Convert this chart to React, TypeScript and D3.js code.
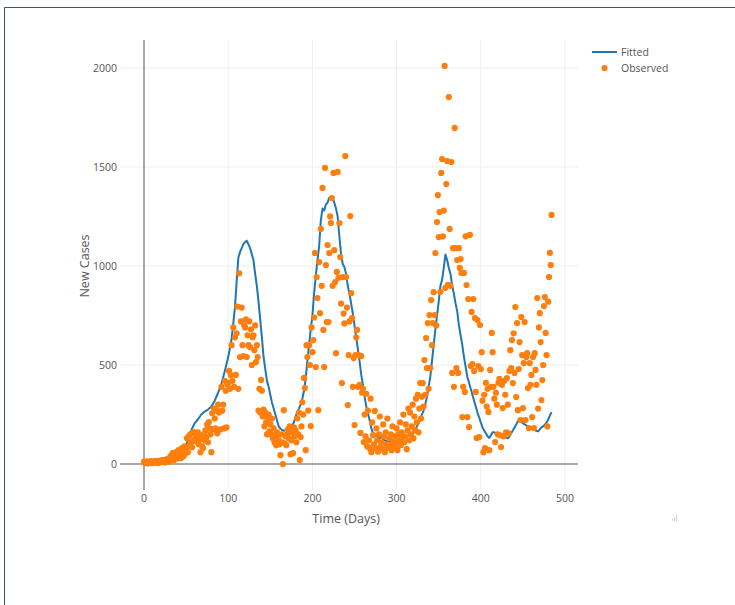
import React from 'react';
import * as d3 from 'd3';

const xTicks = [0, 100, 200, 300, 400, 500];
const yTicks = [0, 500, 1000, 1500, 2000];
const xTitle = 'Time (Days)';
const yTitle = 'New Cases';
const legendLabels = ['Fitted', 'Observed'];

// Observed new cases, one value per day starting at day 0
const observed = [
  12, 5, 8, 14, 3, 10, 6, 9, 15, 4,
  8, 12, 6, 10, 16, 7, 11, 5, 13, 18,
  9, 14, 20, 11, 17, 8, 22, 15, 25, 12,
  30, 18, 42, 25, 55, 35, 20, 48, 60, 28,
  45, 70, 38, 55, 30, 80, 62, 40, 90, 52,
  75, 130, 60, 140, 95, 150, 110, 85, 160, 120,
  160, 130, 115, 145, 160, 100, 125, 60, 140, 90,
  80, 150, 120, 170, 135, 200, 110, 212, 180, 150,
  60, 256, 175, 280, 230, 180, 270, 155, 300, 260,
  265, 175, 390, 270, 300, 180, 420, 370, 185, 400,
  410, 470, 380, 450, 600, 420, 690, 390, 640, 450,
  660, 795, 380, 963, 540, 720, 790, 600, 545, 700,
  690, 730, 540, 650, 600, 720, 590, 680, 500, 640,
  650, 575, 700, 515, 600, 540, 270, 380, 260, 425,
  370, 240, 275, 190, 260, 210, 150, 230, 250, 165,
  200, 150, 230, 130, 180, 110, 140, 95, 160, 150,
  120, 100, 45, 150, 110, 0, 272, 105, 140, 95,
  150, 175, 130, 190, 50, 120, 160, 55, 185, 140,
  170, 110, 230, 150, 260, 20, 136, 190, 312, 250,
  435, 384, 70, 600, 540, 270, 600, 500, 192, 690,
  565, 626, 740, 1065, 490, 944, 838, 272, 1020, 762,
  1187, 900, 1394, 677, 490, 1495, 1005, 717, 1106, 717,
  1065, 1250, 1217, 1343, 900, 1470, 1080, 919, 560, 970,
  1475, 940, 1217, 1045, 810, 409, 944, 760, 710, 1555,
  944, 790, 298, 550, 720, 1252, 863, 737, 390, 535,
  197, 550, 640, 677, 390, 550, 400, 157, 545, 360,
  380, 111, 250, 140, 355, 90, 270, 120, 80, 330,
  60, 210, 146, 100, 268, 80, 180, 120, 62, 150,
  240, 90, 110, 75, 200, 140, 60, 160, 100, 230,
  81, 130, 95, 150, 70, 190, 115, 85, 140, 100,
  180, 70, 150, 120, 210, 95, 160, 130, 250, 110,
  140, 200, 75, 170, 280, 120, 260, 150, 190, 300,
  130, 240, 170, 330, 210, 350, 160, 280, 409, 230,
  340, 409, 290, 525, 350, 636, 485, 712, 380, 752,
  485, 828, 600, 712, 868, 752, 1065, 700, 1222, 1358,
  1146, 1272, 870, 1470, 1540, 1150, 1280, 2010, 890, 1414,
  1530, 905, 1853, 1187, 900, 1525, 460, 1090, 390, 1697,
  1090, 485, 1030, 460, 1090, 990, 1035, 965, 237, 390,
  965, 364, 1150, 904, 237, 833, 187, 1157, 495, 768,
  505, 833, 470, 737, 364, 131, 727, 495, 136, 702,
  480, 565, 320, 60, 350, 80, 410, 290, 380, 263,
  70, 475, 390, 662, 565, 390, 330, 111, 360, 300,
  150, 410, 430, 145, 86, 400, 283, 140, 420, 350,
  160, 434, 300, 155, 470, 575, 485, 626, 409, 660,
  460, 793, 338, 712, 272, 480, 616, 222, 742, 550,
  283, 510, 717, 222, 540, 560, 384, 182, 510, 400,
  450, 237, 540, 182, 560, 475, 400, 838, 280, 690,
  762, 616, 323, 424, 500, 798, 843, 662, 550, 190,
  820, 944, 1066, 1005, 1258,
];

const fittedDays = [
  0, 4, 8, 12, 16, 20, 24, 28, 32, 36, 40, 44, 48, 52, 56, 60, 64, 68, 72, 76,
  80, 84, 88, 92, 96, 100, 104, 108, 110, 112, 114, 116, 118, 120, 122, 124, 126, 128, 130, 132,
  134, 136, 138, 140, 142, 144, 146, 148, 150, 152, 154, 156, 158, 160, 162, 164, 166, 168, 170, 172,
  174, 176, 178, 180, 182, 184, 186, 188, 190, 192, 194, 196, 198, 200, 202, 204, 206, 208, 210, 212,
  214, 216, 218, 220, 222, 224, 226, 228, 230, 232, 234, 236, 238, 240, 242, 244, 246, 248, 250, 252,
  254, 256, 258, 260, 262, 264, 266, 268, 270, 272, 274, 276, 278, 280, 282, 284, 286, 288, 290, 292,
  294, 296, 298, 300, 302, 304, 306, 308, 310, 312, 314, 316, 318, 320, 322, 324, 326, 328, 330, 332,
  334, 336, 338, 340, 342, 344, 346, 348, 350, 352, 354, 356, 358, 360, 362, 364, 366, 368, 370, 372,
  374, 376, 378, 380, 382, 384, 386, 388, 390, 392, 394, 396, 398, 400, 402, 404, 406, 408, 410, 412,
  414, 416, 418, 420, 422, 424, 426, 428, 430, 432, 434, 436, 438, 440, 442, 444, 446, 448, 450, 452,
  454, 456, 458, 460, 462, 464, 466, 468, 470, 472, 474, 476, 478, 480, 482, 484,
];
const fittedValues = [
  5, 8, 10, 12, 15, 18, 22, 28, 40, 52, 55, 62, 80, 115, 170, 205, 225, 250, 265, 275,
  290, 320, 360, 405, 470, 540, 630, 790, 920, 1040, 1070, 1090, 1110, 1120, 1128, 1110, 1090, 1060, 1030, 960,
  900, 820, 730, 640, 540, 480, 420, 390, 350, 310, 280, 250, 220, 190, 178, 172, 168, 170, 175, 178,
  185, 195, 210, 240, 262, 280, 300, 330, 370, 430, 520, 600, 680, 750, 860, 950, 1030, 1100, 1230, 1290,
  1280, 1310, 1320, 1345, 1340, 1345, 1320, 1290, 1250, 1150, 1060, 1010, 995, 960, 900, 860, 810, 760, 700, 640,
  580, 520, 450, 400, 340, 290, 255, 220, 180, 155, 140, 145, 135, 130, 140, 125, 120, 115, 112, 118,
  108, 105, 110, 112, 115, 112, 118, 122, 130, 138, 145, 150, 155, 160, 175, 190, 205, 225, 250, 270,
  300, 340, 390, 440, 520, 600, 680, 750, 820, 900, 930, 990, 1058, 1030, 990, 960, 900, 860, 810, 770,
  700, 650, 600, 540, 490, 440, 410, 380, 350, 320, 290, 260, 235, 210, 185, 170, 155, 140, 132, 145,
  160, 160, 155, 150, 148, 145, 150, 138, 135, 130, 140, 155, 170, 185, 200, 215, 220, 215, 205, 200,
  195, 190, 185, 182, 178, 172, 168, 165, 175, 185, 190, 198, 210, 225, 245, 262,
];

const FONT = '"Open Sans", "Noto Sans", sans-serif';

export default function App() {
  const left = 120, right = 578, top = 40, bottom = 490;
  const x = d3.scaleLinear().domain([-28.5, 515.4]).range([left, right]);
  const y = d3.scaleLinear().domain([-131, 2141]).range([bottom, top]);

  const line = d3
    .line<number>()
    .x((_, i) => x(fittedDays[i]))
    .y((d) => y(d));

  return (
    <svg
      width={735}
      height={605}
      style={{ position: 'absolute', left: 0, top: 0, background: '#fff' }}
    >
      <rect x={0} y={0} width={735} height={605} fill="#fff" />
      {/* frame lines */}
      <line x1={4.5} y1={7.5} x2={735} y2={7.5} stroke="#3e5663" strokeWidth={1} />
      <line x1={4.5} y1={7.5} x2={4.5} y2={605} stroke="#3e5663" strokeWidth={1} />

      {/* gridlines */}
      {xTicks.filter((t) => t !== 0).map((t) => (
        <line key={'gx' + t} x1={x(t)} x2={x(t)} y1={top} y2={bottom} stroke="#eee" strokeWidth={1} />
      ))}
      {yTicks.filter((t) => t !== 0).map((t) => (
        <line key={'gy' + t} x1={left} x2={right} y1={y(t)} y2={y(t)} stroke="#eee" strokeWidth={1} />
      ))}
      {/* zero lines */}
      <line x1={x(0)} x2={x(0)} y1={top} y2={bottom} stroke="#8c8c8c" strokeWidth={1.5} />
      <line x1={left} x2={right} y1={y(0)} y2={y(0)} stroke="#8c8c8c" strokeWidth={1.5} />

      {/* tick labels */}
      {xTicks.map((t) => (
        <text key={'tx' + t} x={x(t)} y={502} textAnchor="middle" fontFamily={FONT} fontSize={10.5} fill="#555">
          {t}
        </text>
      ))}
      {yTicks.map((t) => (
        <text key={'ty' + t} x={117} y={y(t) + 3.8} textAnchor="end" fontFamily={FONT} fontSize={10.5} fill="#555">
          {t}
        </text>
      ))}

      {/* axis titles */}
      <text x={x(240)} y={523} textAnchor="middle" fontFamily={FONT} fontSize={12.5} fill="#555">
        {xTitle}
      </text>
      <text
        transform={`translate(88.5, ${y(1000)}) rotate(-90)`}
        textAnchor="middle"
        fontFamily={FONT}
        fontSize={12.5}
        fill="#555"
      >
        {yTitle}
      </text>

      {/* fitted line */}
      <path d={line(fittedValues) || ''} fill="none" stroke="#1f77b4" strokeWidth={2} strokeLinejoin="round" />

      {/* observed points */}
      {observed.map((v, i) => (
        <circle key={'o' + i} cx={x(i)} cy={y(v)} r={3.1} fill="#ff7f0e" />
      ))}

      {/* legend */}
      <line x1={592} x2={617} y1={52} y2={52} stroke="#1f77b4" strokeWidth={2} />
      <text x={621} y={55.8} fontFamily={FONT} fontSize={10.5} fill="#555">
        {legendLabels[0]}
      </text>
      <circle cx={604.5} cy={68} r={3.1} fill="#ff7f0e" />
      <text x={621} y={71.8} fontFamily={FONT} fontSize={10.5} fill="#555">
        {legendLabels[1]}
      </text>

      {/* resize handle */}
      <g fill="#d0d0d0">
        <rect x={676} y={515} width={1} height={6} />
        <rect x={674} y={517} width={1} height={4} />
        <rect x={672} y={519} width={1} height={2} />
      </g>
    </svg>
  );
}
